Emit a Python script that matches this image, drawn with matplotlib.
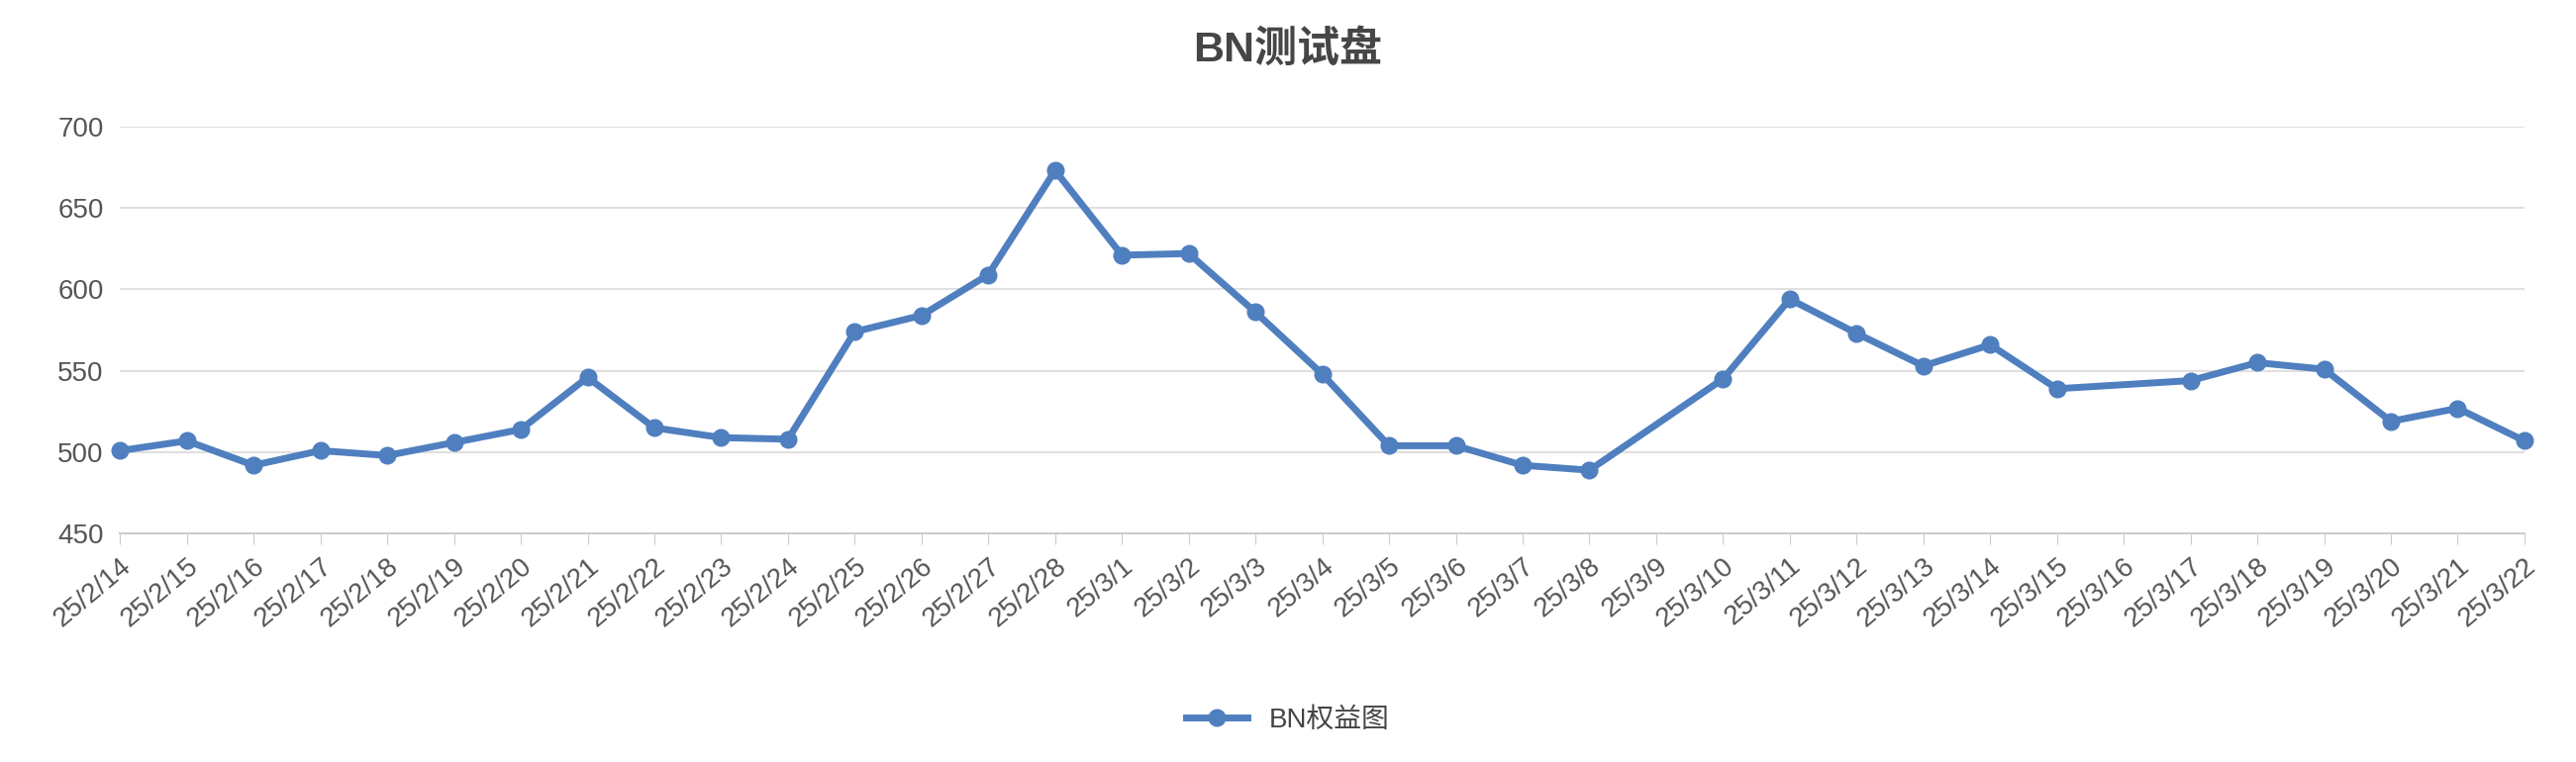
import matplotlib
matplotlib.use("Agg")
import matplotlib.pyplot as plt
import numpy as np

plt.rcParams['font.family'] = ['Liberation Sans', 'Noto Sans CJK SC', 'DejaVu Sans']

dates = ["25/2/14","25/2/15","25/2/16","25/2/17","25/2/18","25/2/19","25/2/20","25/2/21","25/2/22","25/2/23",
         "25/2/24","25/2/25","25/2/26","25/2/27","25/2/28","25/3/1","25/3/2","25/3/3","25/3/4","25/3/5",
         "25/3/6","25/3/7","25/3/8","25/3/9","25/3/10","25/3/11","25/3/12","25/3/13","25/3/14","25/3/15",
         "25/3/16","25/3/17","25/3/18","25/3/19","25/3/20","25/3/21","25/3/22"]
values = [501,507,492,501,498,506,514,546,515,509,
          508,574,584,609,673,621,622,586,548,504,
          504,492,489,np.nan,545,594,573,553,566,539,
          np.nan,544,555,551,519,527,507]

fig = plt.figure(figsize=(26.02, 7.7), dpi=100)
ax = fig.add_axes([0.0466, 0.2996, 0.9334, 0.5344])
x = np.arange(len(dates))
v = np.array(values, dtype=float)
m = ~np.isnan(v)
color = "#4f7fbf"
ax.plot(x[m], v[m], color=color, lw=5, marker='o', ms=12, label="BN权益图", zorder=3, clip_on=False)

ax.set_xlim(0, len(dates) - 1)
ax.set_ylim(450, 700)
ax.set_yticks(range(450, 701, 50))
ax.set_xticks(x)
ax.set_xticklabels(dates, rotation=40, ha='right', rotation_mode='anchor')
ax.tick_params(axis='x', labelsize=20, colors='#555555', length=8, color='#cccccc', pad=6)
ax.tick_params(axis='y', labelsize=20, colors='#555555', length=0, pad=12)
ax.grid(axis='y', color='#e0e0e0', lw=1.5)
ax.set_axisbelow(True)
for s in ['top', 'right', 'left']:
    ax.spines[s].set_visible(False)
ax.spines['bottom'].set_color('#cccccc')
ax.spines['bottom'].set_linewidth(1.5)

fig.text(0.5, 0.935, "BN测试盘", ha='center', va='center', fontsize=31, fontweight='bold', color='#464646')
fig.legend(loc='center', bbox_to_anchor=(0.5, 0.055), frameon=False, fontsize=20,
           handlelength=2.2, labelcolor='#444444')
fig.savefig("out.png", dpi=100)
